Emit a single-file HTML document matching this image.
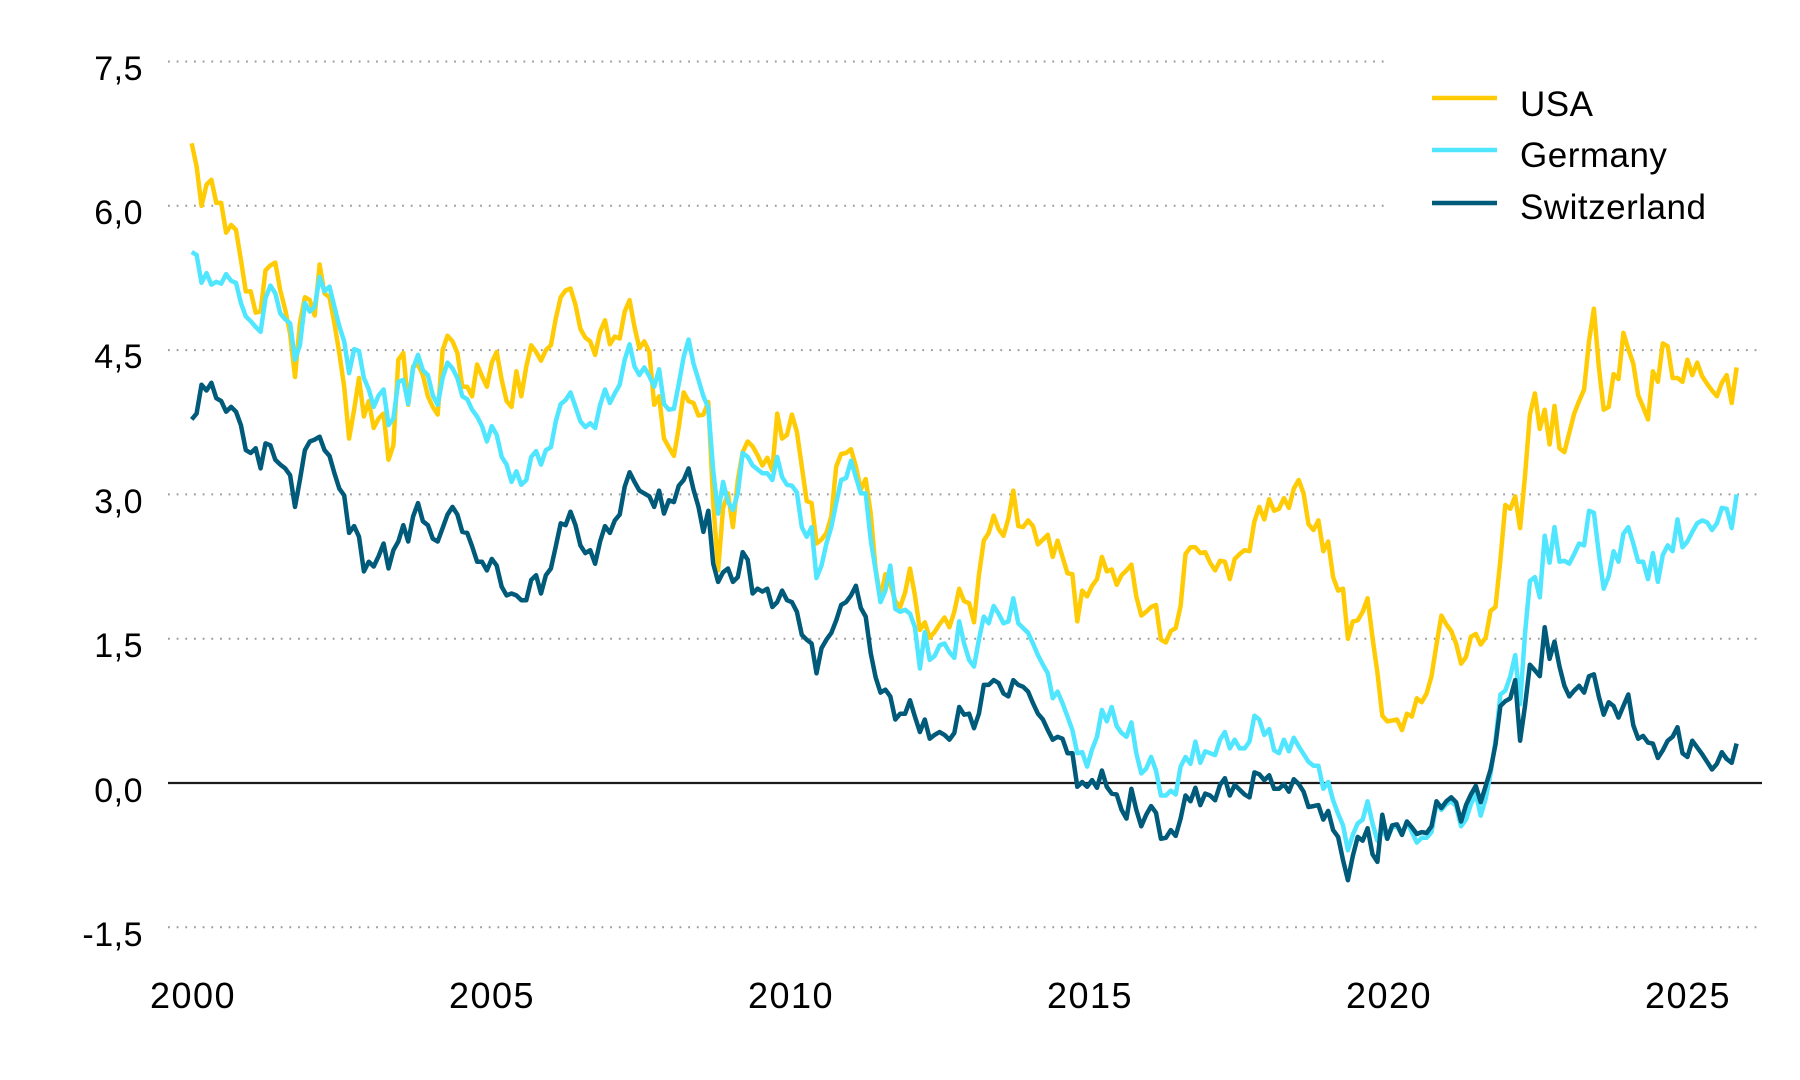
<!DOCTYPE html>
<html>
<head>
<meta charset="utf-8">
<style>
  html,body{margin:0;padding:0;background:#fff;}
  svg{display:block;}
  text{font-family:"Liberation Sans",sans-serif;fill:#000;}
</style>
</head>
<body>
<svg id="chart" width="1800" height="1080" viewBox="0 0 1800 1080" xmlns="http://www.w3.org/2000/svg">
  <rect x="0" y="0" width="1800" height="1080" fill="#fff"/>
  <!-- gridlines -->
  <g stroke="#9a9a9a" stroke-width="2" stroke-dasharray="1.8 6.87" fill="none">
    <line x1="168" y1="61.5" x2="1390" y2="61.5"/>
    <line x1="168" y1="205.8" x2="1390" y2="205.8"/>
    <line x1="168" y1="350.1" x2="1760" y2="350.1"/>
    <line x1="168" y1="494.4" x2="1760" y2="494.4"/>
    <line x1="168" y1="638.7" x2="1760" y2="638.7"/>
    <line x1="168" y1="927.3" x2="1760" y2="927.3"/>
  </g>
  <line x1="168" y1="783" x2="1762" y2="783" stroke="#1a1a1a" stroke-width="2.2"/>

  <!-- y labels -->
  <g font-size="34" text-anchor="end" letter-spacing="0.5">
    <text x="143" y="80">7,5</text>
    <text x="143" y="224">6,0</text>
    <text x="143" y="368">4,5</text>
    <text x="143" y="513">3,0</text>
    <text x="143" y="657">1,5</text>
    <text x="143" y="802">0,0</text>
    <text x="143" y="946">-1,5</text>
  </g>
  <!-- x labels -->
  <g font-size="36" text-anchor="middle" letter-spacing="1.5">
    <text x="193" y="1008">2000</text>
    <text x="492" y="1008">2005</text>
    <text x="791" y="1008">2010</text>
    <text x="1090" y="1008">2015</text>
    <text x="1389" y="1008">2020</text>
    <text x="1688" y="1008">2025</text>
  </g>

  <!-- series -->
  <g fill="none" stroke-width="4.5" stroke-linejoin="round" stroke-linecap="butt">
    <polyline id="usa" stroke="#FFCB05" points=""/>
    <polyline id="ger" stroke="#50E6FF" points=""/>
    <polyline id="che" stroke="#005A7A" points=""/>
  </g>

  <!-- legend -->
  <g stroke-width="4.5">
    <line x1="1432" y1="98" x2="1497" y2="98" stroke="#FFCB05"/>
    <line x1="1432" y1="150" x2="1497" y2="150" stroke="#50E6FF"/>
    <line x1="1432" y1="203" x2="1497" y2="203" stroke="#005A7A"/>
  </g>
  <g font-size="35" letter-spacing="0.5">
    <text x="1520" y="116">USA</text>
    <text x="1520" y="167">Germany</text>
    <text x="1520" y="219">Switzerland</text>
  </g>
</svg>
<script>
var USA=[
6.65,6.41,6.00,6.22,6.27,6.03,6.03,5.72,5.80,5.75,5.44,5.11,
5.11,4.89,4.90,5.33,5.38,5.41,5.12,4.92,4.67,4.22,4.78,5.05,
5.02,4.86,5.39,5.09,5.05,4.78,4.47,4.12,3.58,3.88,4.21,3.81,
3.97,3.69,3.79,3.84,3.36,3.51,4.40,4.47,3.93,4.33,4.35,4.24,
4.02,3.91,3.83,4.50,4.65,4.59,4.47,4.12,4.12,4.02,4.35,4.23,
4.12,4.37,4.48,4.19,3.97,3.91,4.28,4.02,4.33,4.55,4.48,4.39,
4.50,4.55,4.83,5.05,5.12,5.14,4.97,4.72,4.63,4.59,4.45,4.69,
4.81,4.56,4.64,4.62,4.90,5.02,4.74,4.52,4.59,4.48,3.93,4.02,
3.58,3.49,3.40,3.70,4.06,3.97,3.95,3.82,3.83,3.96,2.92,2.21,
2.86,3.01,2.66,3.15,3.44,3.55,3.50,3.41,3.30,3.38,3.25,3.84,
3.58,3.62,3.83,3.65,3.29,2.93,2.91,2.49,2.53,2.60,2.77,3.29,
3.42,3.43,3.47,3.29,3.05,3.16,2.80,2.23,1.92,2.17,2.07,1.89,
1.83,1.98,2.23,1.95,1.59,1.67,1.51,1.57,1.65,1.72,1.62,1.78,
2.02,1.89,1.87,1.67,2.16,2.52,2.60,2.78,2.64,2.57,2.75,3.04,
2.67,2.66,2.73,2.67,2.48,2.53,2.58,2.35,2.52,2.35,2.18,2.17,
1.68,2.00,1.94,2.05,2.12,2.35,2.20,2.22,2.06,2.16,2.21,2.27,
1.94,1.74,1.78,1.83,1.85,1.49,1.46,1.58,1.61,1.84,2.38,2.45,
2.45,2.39,2.40,2.29,2.21,2.31,2.30,2.12,2.33,2.38,2.42,2.41,
2.72,2.87,2.74,2.95,2.83,2.85,2.96,2.86,3.06,3.15,3.01,2.69,
2.63,2.73,2.41,2.51,2.14,2.00,2.02,1.50,1.68,1.69,1.78,1.92,
1.51,1.15,0.70,0.64,0.65,0.66,0.55,0.72,0.69,0.88,0.84,0.93,
1.11,1.44,1.74,1.65,1.58,1.45,1.24,1.31,1.52,1.55,1.44,1.51,
1.79,1.83,2.32,2.89,2.85,2.98,2.65,3.19,3.83,4.05,3.68,3.88,
3.52,3.92,3.48,3.44,3.64,3.84,3.97,4.09,4.59,4.93,4.33,3.88,
3.91,4.25,4.20,4.68,4.51,4.36,4.03,3.91,3.78,4.28,4.17,4.57,
4.54,4.21,4.21,4.17,4.40,4.24,4.37,4.23,4.15,4.08,4.02,4.16,
4.24,3.95,4.32];
var GER=[
5.52,5.49,5.20,5.30,5.18,5.21,5.19,5.29,5.22,5.20,4.99,4.85,
4.80,4.74,4.69,5.04,5.17,5.09,4.88,4.82,4.78,4.40,4.55,4.99,
4.90,4.95,5.26,5.11,5.16,4.95,4.75,4.59,4.26,4.51,4.49,4.21,
4.09,3.91,4.03,4.09,3.72,3.79,4.17,4.19,3.94,4.31,4.45,4.29,
4.24,4.03,3.93,4.21,4.37,4.31,4.21,4.02,3.99,3.88,3.81,3.71,
3.55,3.71,3.62,3.39,3.31,3.13,3.24,3.10,3.15,3.39,3.45,3.31,
3.46,3.49,3.76,3.94,3.98,4.06,3.91,3.76,3.70,3.74,3.69,3.93,
4.09,3.95,4.05,4.14,4.40,4.56,4.33,4.24,4.32,4.23,4.12,4.30,
3.94,3.88,3.89,4.15,4.43,4.61,4.36,4.19,4.02,3.90,3.25,2.80,
3.13,2.92,2.84,3.01,3.43,3.39,3.30,3.26,3.22,3.22,3.15,3.39,
3.18,3.10,3.09,3.02,2.66,2.56,2.66,2.13,2.26,2.49,2.66,2.91,
3.15,3.17,3.35,3.18,3.01,3.01,2.53,2.21,1.88,2.00,2.26,1.81,
1.78,1.80,1.76,1.62,1.19,1.57,1.28,1.32,1.43,1.45,1.36,1.30,
1.68,1.45,1.28,1.21,1.49,1.73,1.66,1.84,1.76,1.66,1.68,1.92,
1.66,1.61,1.56,1.45,1.33,1.23,1.14,0.88,0.95,0.83,0.69,0.55,
0.31,0.32,0.17,0.35,0.48,0.76,0.64,0.79,0.59,0.52,0.48,0.63,
0.31,0.10,0.15,0.27,0.13,-0.13,-0.13,-0.08,-0.12,0.17,0.27,0.20,
0.43,0.21,0.33,0.31,0.29,0.45,0.53,0.36,0.45,0.36,0.36,0.43,
0.70,0.66,0.50,0.56,0.34,0.31,0.45,0.33,0.47,0.38,0.30,0.22,
0.18,0.18,-0.06,0.01,-0.18,-0.32,-0.44,-0.70,-0.54,-0.42,-0.38,-0.19,
-0.42,-0.60,-0.48,-0.58,-0.46,-0.45,-0.54,-0.40,-0.51,-0.62,-0.57,-0.57,
-0.51,-0.21,-0.28,-0.22,-0.19,-0.24,-0.45,-0.38,-0.22,-0.11,-0.34,-0.16,
0.10,0.44,0.92,0.96,1.11,1.33,0.82,1.55,2.10,2.14,1.93,2.57,
2.29,2.66,2.30,2.31,2.28,2.38,2.49,2.47,2.83,2.81,2.39,2.02,
2.15,2.41,2.30,2.59,2.66,2.49,2.30,2.30,2.12,2.39,2.09,2.37,
2.47,2.41,2.74,2.45,2.51,2.61,2.70,2.73,2.71,2.63,2.70,2.86,
2.85,2.65,3.00];
var CHE=[
3.78,3.84,4.14,4.08,4.16,4.00,3.97,3.86,3.91,3.86,3.72,3.46,
3.43,3.48,3.27,3.53,3.51,3.36,3.31,3.27,3.20,2.87,3.15,3.46,
3.55,3.57,3.60,3.46,3.40,3.22,3.06,2.99,2.60,2.67,2.56,2.20,
2.30,2.25,2.36,2.49,2.23,2.42,2.51,2.68,2.51,2.77,2.91,2.72,
2.68,2.54,2.51,2.65,2.79,2.87,2.79,2.61,2.60,2.46,2.30,2.30,
2.21,2.33,2.26,2.04,1.95,1.97,1.95,1.90,1.90,2.11,2.16,1.97,
2.16,2.23,2.46,2.70,2.68,2.82,2.68,2.47,2.39,2.42,2.28,2.51,
2.67,2.60,2.73,2.79,3.08,3.23,3.13,3.04,3.01,2.98,2.87,3.04,
2.80,2.94,2.92,3.09,3.15,3.27,3.05,2.87,2.61,2.83,2.28,2.09,
2.19,2.23,2.09,2.14,2.40,2.32,1.97,2.02,1.99,2.02,1.83,1.88,
2.00,1.90,1.88,1.78,1.54,1.49,1.45,1.14,1.40,1.49,1.56,1.69,
1.85,1.88,1.95,2.05,1.82,1.73,1.35,1.10,0.94,0.97,0.90,0.66,
0.72,0.72,0.86,0.69,0.53,0.66,0.46,0.50,0.53,0.50,0.45,0.52,
0.79,0.71,0.72,0.57,0.72,1.02,1.02,1.07,1.04,0.93,0.90,1.07,
1.02,1.00,0.95,0.83,0.72,0.66,0.55,0.45,0.48,0.46,0.31,0.31,
-0.04,0.01,-0.04,0.03,-0.05,0.13,-0.04,-0.11,-0.12,-0.28,-0.37,-0.06,
-0.28,-0.45,-0.33,-0.24,-0.31,-0.58,-0.57,-0.49,-0.55,-0.37,-0.13,-0.19,
-0.05,-0.23,-0.11,-0.13,-0.18,-0.02,0.05,-0.13,-0.02,-0.07,-0.12,-0.15,
0.11,0.09,0.03,0.08,-0.06,-0.06,-0.01,-0.09,0.04,-0.01,-0.09,-0.25,
-0.24,-0.23,-0.38,-0.29,-0.49,-0.56,-0.80,-1.01,-0.76,-0.56,-0.60,-0.47,
-0.74,-0.82,-0.33,-0.58,-0.44,-0.43,-0.54,-0.40,-0.46,-0.53,-0.51,-0.52,
-0.45,-0.19,-0.26,-0.19,-0.15,-0.20,-0.40,-0.23,-0.12,-0.03,-0.20,-0.03,
0.14,0.40,0.80,0.85,0.88,1.07,0.44,0.80,1.23,1.17,1.11,1.62,
1.29,1.47,1.21,1.01,0.90,0.96,1.01,0.94,1.11,1.13,0.90,0.71,
0.84,0.80,0.68,0.80,0.92,0.60,0.46,0.49,0.42,0.41,0.26,0.34,
0.44,0.48,0.58,0.31,0.27,0.44,0.37,0.30,0.22,0.14,0.20,0.32,
0.25,0.21,0.41];
var X0=191.7, DX=4.92, Y0=783, DY=96.2;
function pts(a){var s=[];for(var i=0;i<a.length;i++){s.push((X0+DX*i).toFixed(1)+','+(Y0-DY*a[i]).toFixed(1));}return s.join(' ');}
document.getElementById('usa').setAttribute('points',pts(USA));
document.getElementById('ger').setAttribute('points',pts(GER));
document.getElementById('che').setAttribute('points',pts(CHE));
</script>
</body>
</html>
